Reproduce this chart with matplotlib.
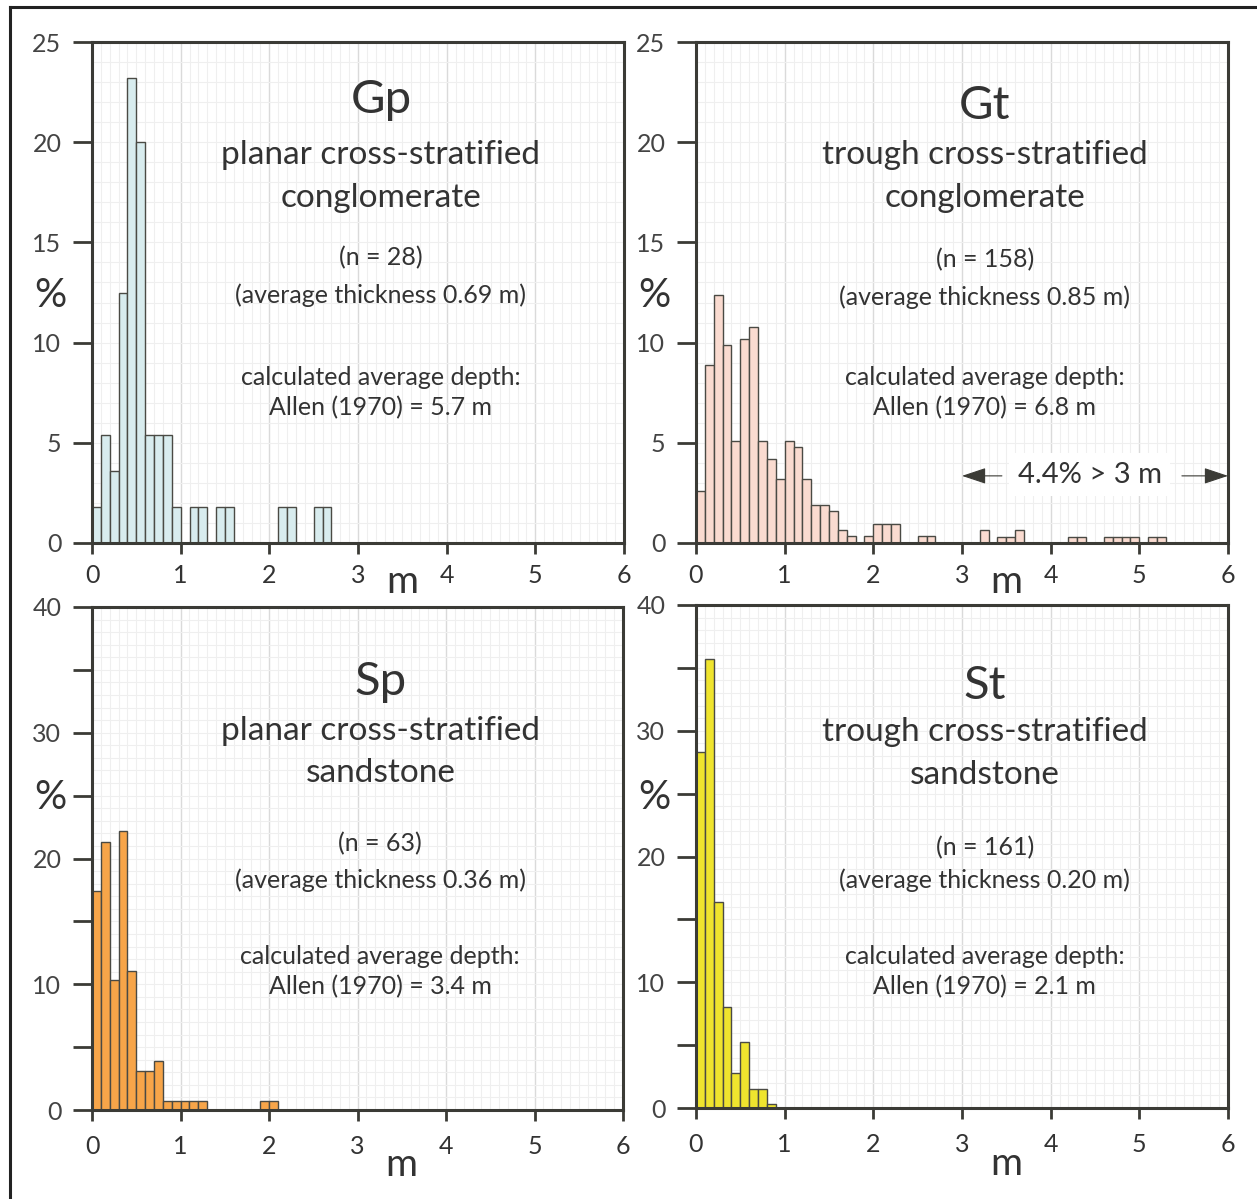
"""Bedform thickness histograms for four lithofacies."""

import matplotlib.pyplot as plt
import numpy as np
from matplotlib.lines import Line2D

plt.rcParams['font.family'] = ['Lato', 'DejaVu Sans']

BIN = 0.1  # m

# percent of sets per 0.1 m thickness class, starting at 0 m
gp_pct = [1.8, 5.4, 3.6, 12.5, 23.2, 20.0, 5.4, 5.4, 5.4, 1.8,
          0, 1.8, 1.8, 0, 1.8, 1.8, 0, 0, 0, 0,
          0, 1.8, 1.8, 0, 0, 1.8, 1.8]
gt_pct = [2.6, 8.9, 12.4, 9.9, 5.1, 10.2, 10.8, 5.1, 4.2, 3.2,
          5.1, 4.8, 3.2, 1.9, 1.9, 1.6, 0.63, 0.33, 0, 0.33,
          0.93, 0.93, 0.93, 0, 0, 0.33, 0.33, 0, 0, 0,
          0, 0, 0.65, 0, 0.3, 0.3, 0.65, 0, 0, 0,
          0, 0, 0.3, 0.3, 0, 0, 0.3, 0.3, 0.3, 0.3,
          0, 0.3, 0.3]
sp_pct = [17.4, 21.35, 10.3, 22.2, 11.05, 3.1, 3.1, 3.9, 0.72, 0.72,
          0.72, 0.72, 0.72, 0, 0, 0, 0, 0, 0, 0.72, 0.72]
st_pct = [28.3, 35.7, 16.4, 8.05, 2.8, 5.25, 1.5, 1.5, 0.35]

codes = ['Gp', 'Gt', 'Sp', 'St']
kinds = ['planar cross-stratified', 'trough cross-stratified',
         'planar cross-stratified', 'trough cross-stratified']
rocks = ['conglomerate', 'conglomerate', 'sandstone', 'sandstone']
n_sets = [28, 158, 63, 161]
avg_thick = ['0.69', '0.85', '0.36', '0.20']
allen_depth = ['5.7', '6.8', '3.4', '2.1']
colors = ['#d8ecee', '#fadbd0', '#f7a549', '#efe42e']

W, H = 1257, 1199
fig = plt.figure(figsize=(W / 100, H / 100), dpi=100)

# panel boxes in pixels: left, top, right, bottom
boxes = [(92, 42, 624, 543), (696, 42, 1228, 543),
         (92, 607, 623, 1110), (696, 605, 1228, 1108)]
# text line centres (axes fraction) for each panel
text_y = [
    [0.884, 0.774, 0.689, 0.569, 0.495, 0.331, 0.271],
    [0.872, 0.774, 0.689, 0.565, 0.491, 0.331, 0.271],
    [0.851, 0.753, 0.670, 0.529, 0.457, 0.306, 0.245],
    [0.839, 0.748, 0.662, 0.517, 0.453, 0.302, 0.241],
]
pct_y = [0.495, 0.495, 0.622, 0.618]
m_y = [-0.078, -0.078, -0.109, -0.111]

INK = '#3b3b36'
TXT = '#333333'
data = [gp_pct, gt_pct, sp_pct, st_pct]

for i, vals in enumerate(data):
    l, t, r, b = boxes[i]
    ax = fig.add_axes([l / W, 1 - b / H, (r - l) / W, (b - t) / H])
    vals = np.array(vals)
    left = np.arange(len(vals)) * BIN
    keep = vals > 0
    ax.bar(left[keep], vals[keep], width=BIN, align='edge', color=colors[i],
           edgecolor='#4a4a44', linewidth=1.0, zorder=3)

    top = 25 if i < 2 else 40
    ax.set_xlim(0, 6)
    ax.set_ylim(0, top)

    # fine grid
    for x in np.arange(0.1, 6.0, 0.1):
        major = abs(x - round(x)) < 1e-6
        ax.axvline(x, color='#dadada' if major else '#efefef',
                   lw=1.0 if major else 0.8, zorder=0)
    for y in range(1, top):
        ax.axhline(y, color='#efefef', lw=0.8, zorder=0)

    ax.set_xticks(range(7))
    if i < 2:
        ax.set_yticks(range(0, 26, 5))
    else:
        ax.set_yticks(range(0, 41, 10))
        ax.set_yticks(range(5, 40, 10), minor=True)
        ax.tick_params(axis='y', which='minor', length=14, width=2, color=INK)
    ax.tick_params(axis='y', which='major', length=14, width=2, color=INK,
                   labelsize=18, labelcolor='#444444', pad=8)
    ax.tick_params(axis='x', length=8, width=2, color=INK,
                   labelsize=18, labelcolor=TXT, pad=7 if i < 2 else 10)
    for s in ax.spines.values():
        s.set_color(INK)
        s.set_linewidth(2.2)
        s.set_zorder(5)

    cx = 0.543
    ys = text_y[i]
    lines = [(codes[i], 34), (kinds[i], 24), (rocks[i], 24),
             (f'(n = {n_sets[i]})', 18),
             (f'(average thickness {avg_thick[i]} m)', 18),
             ('calculated average depth:', 18),
             (f'Allen (1970) = {allen_depth[i]} m', 18)]
    for (s, fs), y in zip(lines, ys):
        ax.text(cx, y, s, transform=ax.transAxes, ha='center', va='center',
                fontsize=fs, color=TXT)

    ax.text(-0.079, pct_y[i], '%', transform=ax.transAxes, ha='center',
            va='center', fontsize=29, color=TXT)
    ax.text(3.5, m_y[i], 'm', transform=ax.get_xaxis_transform(),
            ha='center', va='center', fontsize=28, color=TXT)

    if i == 1:
        ax.text(4.44, 3.4, '4.4% > 3 m', ha='center', va='center',
                fontsize=21, color=TXT, zorder=6,
                bbox=dict(facecolor='white', edgecolor='none', pad=6))
        head = '-|>,head_length=1.5,head_width=0.5'
        ax.annotate('', xy=(3.0, 3.35), xytext=(3.45, 3.35), zorder=6,
                    arrowprops=dict(arrowstyle=head, color=INK, lw=0.8,
                                    shrinkA=0, shrinkB=0))
        ax.annotate('', xy=(6.0, 3.35), xytext=(5.48, 3.35), zorder=6,
                    arrowprops=dict(arrowstyle=head, color=INK, lw=0.8,
                                    shrinkA=0, shrinkB=0))

# outer frame (only left and top edges fall inside the picture)
fig.add_artist(Line2D([10 / W, 10 / W], [0, 1 - 7 / H], color='#222222',
                      lw=2.2, transform=fig.transFigure))
fig.add_artist(Line2D([10 / W, 1], [1 - 7 / H, 1 - 7 / H], color='#222222',
                      lw=2.2, transform=fig.transFigure))

fig.savefig('out.png', dpi=100)
